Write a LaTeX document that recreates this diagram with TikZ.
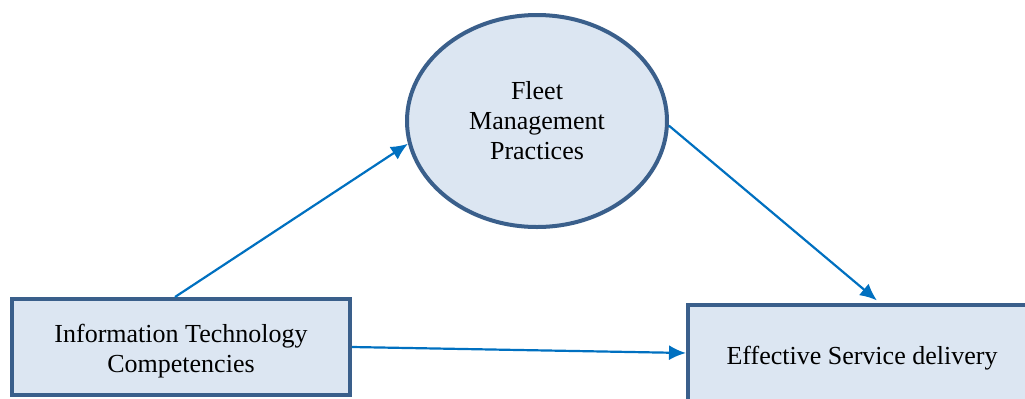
\documentclass[tikz,border=0pt]{standalone}
\usepackage{fontspec}
\setmainfont{Liberation Serif}
\usetikzlibrary{shapes.geometric,arrows.meta}
\definecolor{rimblue}{HTML}{3A5F8B}
\definecolor{paleblue}{HTML}{DCE6F2}
\definecolor{linkblue}{HTML}{0070C0}
\begin{document}
\begin{tikzpicture}[x=0.5pt,y=-0.5pt,
    box/.style={draw=rimblue, fill=paleblue, line width=2pt, align=center,
      font=\fontsize{13}{15}\selectfont, inner sep=0pt},
    link/.style={draw=linkblue, line width=1.1pt, -{Latex[length=8.5pt,width=7.5pt]}}]
  \useasboundingbox (0,0) rectangle (1025,398);
  \node[box, ellipse, minimum width=130pt, minimum height=106pt] (fmp) at (537,121)
    {Fleet\\Management\\Practices};
  \node[box, rectangle, minimum width=169pt, minimum height=48pt] (itc) at (181,347)
    {\rule{0pt}{13pt}Information Technology\\Competencies};
  \node[box, rectangle, minimum width=174pt, minimum height=48pt] (esd) at (862,353)
    {\rule{0pt}{14pt}Effective Service delivery};
  \draw[link] ([xshift=-3pt]itc.north) -- (fmp.190);
  \draw[link, shorten >=2pt] (fmp.-2) -- ([xshift=9pt]esd.north);
  \draw[link] (itc.east) -- (esd.west);
\end{tikzpicture}
\end{document}
